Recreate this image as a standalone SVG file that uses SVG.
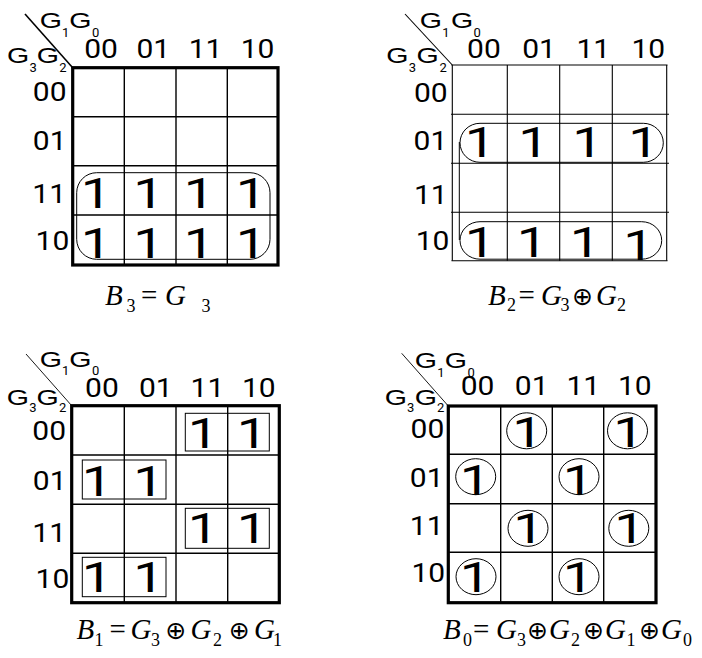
<svg xmlns="http://www.w3.org/2000/svg" width="702" height="658" viewBox="0 0 702 658">
<style>
.bg{fill:#fff}
.thick{fill:none;stroke:#000;stroke-width:3.2}
.grid{stroke:#000;stroke-width:1.4;fill:none}
.thin{stroke:#000;stroke-width:1.1;fill:none}
.loop{fill:none;stroke:#000;stroke-width:1}
.diag{stroke:#000;fill:none}
text{fill:#000}
.one{font-family:Roboto,"Liberation Sans",sans-serif;font-size:42px;text-anchor:middle;transform-box:fill-box;transform-origin:center;transform:scaleX(1.3)}
.lbl{font-family:Roboto,"Liberation Sans",sans-serif;font-size:25px;text-anchor:middle;transform-box:fill-box;transform-origin:center;transform:scaleX(1.2)}
.g{font-family:"Liberation Sans",Arial,sans-serif;font-size:22px;text-anchor:middle;transform-box:fill-box;transform-origin:center;transform:scaleX(1.3)}
.s{font-family:Roboto,"Liberation Sans",sans-serif;font-size:13px}
.f{font-family:"Liberation Serif","Times New Roman",serif;font-size:29px}
.i{font-style:italic}
.fs{font-size:18px}
.op{font-family:"DejaVu Sans",sans-serif;font-size:25px}
</style>
<rect class="bg" x="0" y="0" width="702" height="658"/>

<g id="map-b3">
  <line class="diag" stroke-width="1.6" x1="25" y1="14" x2="72.7" y2="67.7"/>
  <text class="g" x="50.8" y="28.3">G</text><text class="s" x="62" y="37">1</text>
  <text class="g" x="80.5" y="28.3">G</text><text class="s" x="92" y="37">0</text>
  <text class="g" x="18.2" y="63.3">G</text><text class="s" x="29.5" y="71.7">3</text>
  <text class="g" x="48" y="63.3">G</text><text class="s" x="59.3" y="71.7">2</text>
  <text class="lbl" x="101" y="58.3">00</text>
  <text class="lbl" x="153.3" y="58.3">01</text>
  <text class="lbl" x="205.5" y="58.3">11</text>
  <text class="lbl" x="257.5" y="58.3">10</text>
  <text class="lbl" x="49.7" y="100.7">00</text>
  <text class="lbl" x="49.7" y="150">01</text>
  <text class="lbl" x="49.2" y="203.3">11</text>
  <text class="lbl" x="52.5" y="250">10</text>
  <path class="grid" d="M124.3 67.7V265M176 67.7V265M227.3 67.7V265M72.7 116.7H278M72.7 165.7H278M72.7 215H278"/>
  <rect class="thick" x="72.7" y="67.7" width="205.3" height="197.3"/>
  <rect class="loop" x="76.7" y="172.7" width="193.3" height="86.6" rx="20"/>
  <text class="one" x="96" y="208.3">1</text>
  <text class="one" x="148.5" y="208.3">1</text>
  <text class="one" x="199" y="208.3">1</text>
  <text class="one" x="251" y="208.3">1</text>
  <text class="one" x="96" y="258.3">1</text>
  <text class="one" x="148.5" y="258.3">1</text>
  <text class="one" x="199" y="258.3">1</text>
  <text class="one" x="251" y="258.3">1</text>
</g>

<g id="map-b2">
  <line class="diag" stroke-width="1.1" x1="405" y1="14" x2="452.3" y2="65"/>
  <text class="g" x="430.8" y="28.3">G</text><text class="s" x="442.2" y="37">1</text>
  <text class="g" x="462.2" y="28.3">G</text><text class="s" x="473.5" y="37">0</text>
  <text class="g" x="397.5" y="63.3">G</text><text class="s" x="408.8" y="71.7">3</text>
  <text class="g" x="427.6" y="63.3">G</text><text class="s" x="439.5" y="71.7">2</text>
  <text class="lbl" x="484" y="58.3">00</text>
  <text class="lbl" x="539" y="58.3">01</text>
  <text class="lbl" x="593.3" y="58.3">11</text>
  <text class="lbl" x="648.3" y="58.3">10</text>
  <text class="lbl" x="430.8" y="101.7">00</text>
  <text class="lbl" x="430.5" y="150">01</text>
  <text class="lbl" x="430.8" y="204">11</text>
  <text class="lbl" x="432.5" y="250">10</text>
  <path class="thin" d="M507.3 65V260.7M559.7 65V260.7M612.3 65V260.7M451 114.3H669M451 163.3H669M451 212.3H669"/>
  <path class="thin" stroke-width="1.5" d="M452.3 65V260.7M666.7 65V260.7"/>
  <path class="thin" stroke-width="2.3" d="M451.5 65H667.5M451.5 260.7H667.5"/>
  <rect class="loop" x="460" y="123.3" width="203.3" height="39" rx="20" ry="19.5"/>
  <rect class="loop" x="460" y="221.7" width="201.7" height="37.5" rx="20" ry="18.7"/>
  <line class="loop" x1="459.3" y1="142" x2="459.3" y2="240"/>
  <text class="one" x="480" y="156.7">1</text>
  <text class="one" x="533.5" y="156.7">1</text>
  <text class="one" x="587.5" y="156.7">1</text>
  <text class="one" x="643.5" y="156.7">1</text>
  <text class="one" x="480" y="256.7">1</text>
  <text class="one" x="532" y="256.7">1</text>
  <text class="one" x="585" y="256.7">1</text>
  <text class="one" x="638.5" y="260">1</text>
</g>

<g id="formula-b3">
  <text class="f"><tspan class="i" x="105" y="305">B</tspan><tspan class="fs" x="126.5" y="311.5">3</tspan><tspan x="141" y="305">=</tspan><tspan class="i" x="165" y="305">G</tspan><tspan class="fs" x="201.5" y="311.5">3</tspan></text>
</g>
<g id="formula-b2">
  <text class="f"><tspan class="i" x="488" y="305">B</tspan><tspan class="fs" x="507" y="311">2</tspan><tspan x="518.5" y="305">=</tspan><tspan class="i" x="541" y="305">G</tspan><tspan class="fs" x="560.5" y="311">3</tspan><tspan class="op" x="572" y="305">⊕</tspan><tspan class="i" x="596" y="305">G</tspan><tspan class="fs" x="617" y="311">2</tspan></text>
</g>

<g id="map-b1">
  <line class="diag" stroke-width="0.9" x1="26" y1="354" x2="71.7" y2="405.7"/>
  <text class="g" x="50.8" y="366.7">G</text><text class="s" x="62" y="375">1</text>
  <text class="g" x="80.5" y="366.7">G</text><text class="s" x="92" y="375">0</text>
  <text class="g" x="17.8" y="405">G</text><text class="s" x="29.2" y="411.7">3</text>
  <text class="g" x="47.6" y="405">G</text><text class="s" x="59" y="411.7">2</text>
  <text class="lbl" x="102" y="396.7">00</text>
  <text class="lbl" x="155.8" y="396.7">01</text>
  <text class="lbl" x="207.5" y="396.7">11</text>
  <text class="lbl" x="258.8" y="396.7">10</text>
  <text class="lbl" x="49.2" y="440">00</text>
  <text class="lbl" x="49.7" y="490">01</text>
  <text class="lbl" x="49.2" y="541.7">11</text>
  <text class="lbl" x="52.5" y="588.3">10</text>
  <path class="grid" stroke-width="1.2" d="M124.3 405.7V602.7M176 405.7V602.7M227.7 405.7V602.7M71.7 455H279.3M71.7 504.3H279.3M71.7 553.3H279.3"/>
  <rect class="thick" x="71.7" y="405.7" width="207.6" height="197"/>
  <rect class="loop" x="185.3" y="413.3" width="84" height="37.7"/>
  <rect class="loop" x="82.3" y="460" width="83.7" height="39"/>
  <rect class="loop" x="185.3" y="508.3" width="84" height="40"/>
  <rect class="loop" x="82.3" y="557.3" width="83.7" height="39.4"/>
  <text class="one" x="203" y="448.3">1</text>
  <text class="one" x="252" y="448.3">1</text>
  <text class="one" x="97" y="495.7">1</text>
  <text class="one" x="148.5" y="495.7">1</text>
  <text class="one" x="203" y="543.3">1</text>
  <text class="one" x="252" y="543.3">1</text>
  <text class="one" x="97" y="591.7">1</text>
  <text class="one" x="148.5" y="591.7">1</text>
</g>

<g id="map-b0">
  <line class="diag" stroke-width="0.9" x1="401.7" y1="353.3" x2="448.3" y2="406"/>
  <text class="g" x="425.8" y="368.3">G</text><text class="s" x="437.2" y="376.5">1</text>
  <text class="g" x="456" y="368.3">G</text><text class="s" x="467.4" y="376.5">0</text>
  <text class="g" x="395.8" y="405">G</text><text class="s" x="407" y="411.7">3</text>
  <text class="g" x="425.8" y="405">G</text><text class="s" x="437" y="411.7">2</text>
  <text class="lbl" x="477.5" y="395">00</text>
  <text class="lbl" x="531.7" y="395">01</text>
  <text class="lbl" x="583.3" y="395">11</text>
  <text class="lbl" x="634.8" y="395">10</text>
  <text class="lbl" x="427.5" y="438">00</text>
  <text class="lbl" x="426.7" y="486.7">01</text>
  <text class="lbl" x="426.7" y="535">11</text>
  <text class="lbl" x="428.3" y="581.7">10</text>
  <path class="grid" stroke-width="1.2" d="M500.7 406V602.7M552.3 406V602.7M603.7 406V602.7M448.3 454.3H656M448.3 503.7H656M448.3 552.3H656"/>
  <rect class="thick" x="448.3" y="406" width="207.7" height="196.7"/>
  <ellipse class="loop" stroke-width="0.8" cx="526.7" cy="430.8" rx="20" ry="18"/>
  <ellipse class="loop" stroke-width="0.8" cx="627.5" cy="430.8" rx="20" ry="18"/>
  <ellipse class="loop" stroke-width="0.8" cx="475.7" cy="476.7" rx="20" ry="18"/>
  <ellipse class="loop" stroke-width="0.8" cx="579" cy="476.7" rx="20" ry="18"/>
  <ellipse class="loop" stroke-width="0.8" cx="528" cy="528.3" rx="20" ry="18"/>
  <ellipse class="loop" stroke-width="0.8" cx="628.8" cy="528.3" rx="20" ry="18"/>
  <ellipse class="loop" stroke-width="0.8" cx="476" cy="576.7" rx="20" ry="18"/>
  <ellipse class="loop" stroke-width="0.8" cx="579" cy="576.7" rx="20" ry="18"/>
  <text class="one" x="527.5" y="447.3">1</text>
  <text class="one" x="628.5" y="447.3">1</text>
  <text class="one" x="475" y="495">1</text>
  <text class="one" x="578" y="495">1</text>
  <text class="one" x="528.5" y="543.3">1</text>
  <text class="one" x="629.5" y="543.3">1</text>
  <text class="one" x="475" y="591.7">1</text>
  <text class="one" x="578" y="591.7">1</text>
</g>

<g id="formula-b1">
  <text class="f"><tspan class="i" x="76.5" y="639">B</tspan><tspan class="fs" x="94.5" y="646">1</tspan><tspan x="109.5" y="639">=</tspan><tspan class="i" x="130.5" y="639">G</tspan><tspan class="fs" x="151" y="646">3</tspan><tspan class="op" x="165.3" y="639">⊕</tspan><tspan class="i" x="190.5" y="639">G</tspan><tspan class="fs" x="213" y="646">2</tspan><tspan class="op" x="228.8" y="639">⊕</tspan><tspan class="i" x="254" y="639">G</tspan><tspan class="fs" x="273" y="646">1</tspan></text>
</g>
<g id="formula-b0">
  <text class="f"><tspan class="i" x="443" y="639">B</tspan><tspan class="fs" x="463" y="646">0</tspan><tspan x="473" y="639">=</tspan><tspan class="i" x="496" y="639">G</tspan><tspan class="fs" x="517" y="646">3</tspan><tspan class="op" x="527" y="639">⊕</tspan><tspan class="i" x="549" y="639">G</tspan><tspan class="fs" x="571" y="646">2</tspan><tspan class="op" x="583" y="639">⊕</tspan><tspan class="i" x="605" y="639">G</tspan><tspan class="fs" x="626.5" y="646">1</tspan><tspan class="op" x="639" y="639">⊕</tspan><tspan class="i" x="661" y="639">G</tspan><tspan class="fs" x="683" y="646">0</tspan></text>
</g>
</svg>
